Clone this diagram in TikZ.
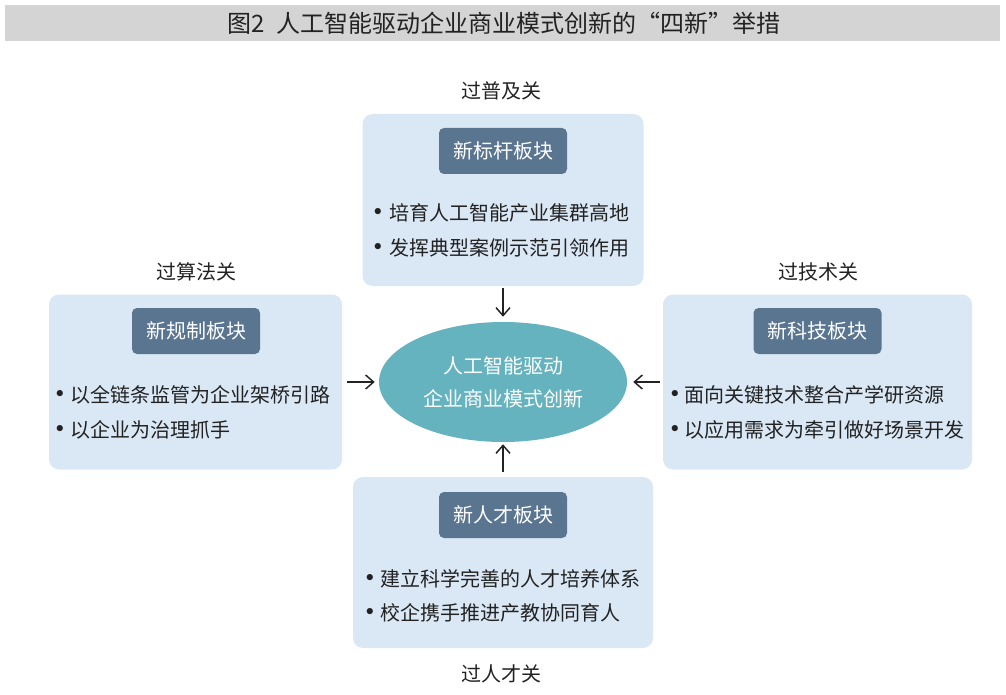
\documentclass[tikz,border=0pt]{standalone}
\usepackage{fontspec}
\setmainfont{Noto Sans CJK SC}
\newfontfamily\dotfont{DejaVu Sans}
\usetikzlibrary{calc,arrows.meta,shapes.geometric,positioning}
\definecolor{panelblue}{HTML}{DAE8F5}
\definecolor{headslate}{HTML}{5A7590}
\definecolor{coreteal}{HTML}{65B3BE}
\definecolor{bargray}{HTML}{D4D4D4}
\definecolor{textgray}{HTML}{222222}

\begin{document}
\begin{tikzpicture} [x=0.75pt,y=-0.75pt,{panel/.style={rectangle,fill=panelblue,rounded corners=7.5pt,inner sep=0pt}},{head/.style={rectangle,fill=headslate,rounded corners=3.75pt,text=white,minimum width=96pt,minimum height=34.5pt,inner sep=0pt,font=\fontsize{15pt}{18pt}\selectfont}},{item/.style={anchor=west,inner sep=0pt,text=textgray,font=\fontsize{15pt}{18pt}\selectfont}},{dot/.style={inner sep=0pt,text=textgray,font=\dotfont\fontsize{16pt}{18pt}\selectfont}},{gate/.style={inner sep=0pt,text=textgray,font=\fontsize{15pt}{18pt}\selectfont}},{linest/.style={-{Straight Barb[length=6pt,width=10.5pt]},line width=1.1pt,color=textgray}}]
	\useasboundingbox (0,0) rectangle (1006,695);
	%%title bar
	\fill [bargray] (5,5) rectangle (1000,41);
	\node [inner sep=0pt,text=textgray,font=\fontsize{18pt}{20pt}\selectfont] (title) at (504,23) {图2\hspace{0.5em}人工智能驱动企业商业模式创新的“四新”举措};
	%%panels
	\node [panel,minimum width=210.75pt,minimum height=129pt] (top) at (503,200) {};
	\node [panel,minimum width=219.75pt,minimum height=131.25pt] (left) at (195.5,382) {};
	\node [panel,minimum width=231.75pt,minimum height=131.25pt] (right) at (817.5,382) {};
	\node [panel,minimum width=225pt,minimum height=128.25pt] (bottom) at (503,562.5) {};
	%%headers
	\node [head] (toph) at (503,151) {新标杆板块};
	\node [head] (lefth) at (196,331) {新规制板块};
	\node [head] (righth) at (817.5,331) {新科技板块};
	\node [head] (bottomh) at (503,515) {新人才板块};
	%%items
	\node [dot] at (378,214) {•};
	\node [item] (top1) at (389,213) {培育人工智能产业集群高地};
	\node [dot] at (378,249) {•};
	\node [item] (top2) at (389,248) {发挥典型案例示范引领作用};
	\node [dot] at (60,396) {•};
	\node [item] (left1) at (70,395) {以全链条监管为企业架桥引路};
	\node [dot] at (60,431) {•};
	\node [item] (left2) at (70,430) {以企业为治理抓手};
	\node [dot] at (675,396) {•};
	\node [item] (right1) at (684,395) {面向关键技术整合产学研资源};
	\node [dot] at (675,431) {•};
	\node [item] (right2) at (684,430) {以应用需求为牵引做好场景开发};
	\node [dot] at (370,580) {•};
	\node [item] (bottom1) at (380,579) {建立科学完善的人才培养体系};
	\node [dot] at (370,614) {•};
	\node [item] (bottom2) at (380,613) {校企携手推进产教协同育人};
	%%gates
	\node [gate] (topg) at (501,91) {过普及关};
	\node [gate] (leftg) at (196,272) {过算法关};
	\node [gate] (rightg) at (818,272) {过技术关};
	\node [gate] (bottomg) at (501,674) {过人才关};
	%%core
	\node [ellipse,fill=coreteal,minimum width=186pt,minimum height=90pt,inner sep=0pt,text=white,align=center,font=\fontsize{15pt}{24.75pt}\selectfont] (core) at (503,382) {人工智能驱动\\企业商业模式创新};
	%%arrows
	\draw [linest,shorten <=1.5pt,shorten >=3.75pt] (top.south) -- (core.north);
	\draw [linest,shorten <=3.75pt,shorten >=3pt] (left.east) -- (core.west);
	\draw [linest,shorten <=2.25pt,shorten >=4.5pt] (right.west) -- (core.east);
	\draw [linest,shorten <=3.75pt,shorten >=1.5pt] (bottom.north) -- (core.south);
\end{tikzpicture}
\end{document}
